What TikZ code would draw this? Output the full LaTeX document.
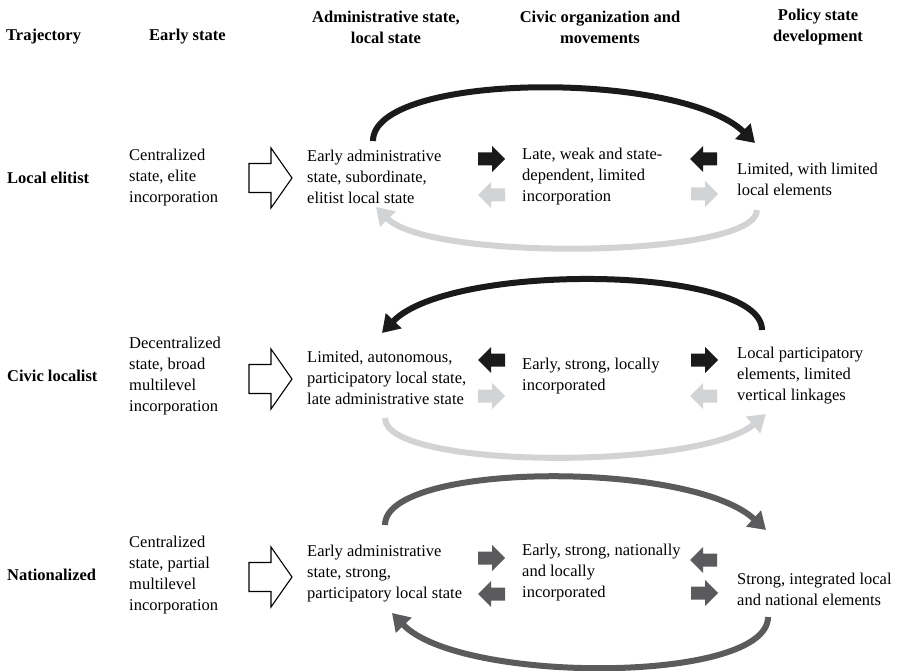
\documentclass[tikz,border=0pt]{standalone}
\usepackage{fontspec}
\setmainfont{Liberation Serif}
\usetikzlibrary{arrows.meta}
\definecolor{ink}{HTML}{1A1A1A}
\definecolor{pale}{HTML}{D2D3D5}
\definecolor{mid}{HTML}{5B5B5D}
\tikzset{
  blockarrow/.pic={\fill (0,-6.5) -- (14,-6.5) -- (14,-13) -- (27,0) -- (14,13) -- (14,6.5) -- (0,6.5) -- cycle;},
  openarrow/.pic={\draw[line width=1.1pt,line join=miter,fill=white]
     (0,-14.5) -- (22,-14.5) -- (22,-30) -- (43,0) -- (22,30) -- (22,14.5) -- (0,14.5) -- cycle;}
}
\begin{document}
\begin{tikzpicture}[x=1pt,y=-1pt,
  txt/.style={anchor=west,align=left,inner sep=0pt,font=\fontsize{16.5}{21}\selectfont},
  hdr/.style={align=center,inner sep=0pt,font=\bfseries\fontsize{16.5}{21}\selectfont},
  rowlab/.style={anchor=west,inner sep=0pt,font=\bfseries\fontsize{16.5}{21}\selectfont},
  loop/.style={line width=6pt,-{Triangle[width=21pt,length=17pt]}}]
\useasboundingbox (0,0) rectangle (902,671);

% column headings
\node[hdr,anchor=west] (hTraj) at (6,37) {Trajectory};
\node[hdr,anchor=west] (hEarly) at (149,37) {Early state};
\node[hdr] (hAdmin) at (386,27) {Administrative state,\\local state};
\node[hdr] (hCivic) at (600,27) {Civic organization and\\movements};
\node[hdr] (hPolicy) at (818,27) {Policy state\\development};

% ---------- local elitist ----------
\node[rowlab] (r1) at (7,178) {Local elitist};
\node[txt] (e1) at (129,178) {Centralized\\state, elite\\incorporation};
\pic at (249,178) {openarrow};
\node[txt] (a1) at (307,177) {Early administrative\\state, subordinate,\\elitist local state};
\pic[ink] at (478,159) {blockarrow};
\pic[pale,xscale=-1] at (505,195) {blockarrow};
\node[txt] (c1) at (522,177) {Late, weak and state-\\dependent, limited\\incorporation};
\pic[ink,xscale=-1] at (717,159) {blockarrow};
\pic[pale] at (691,194) {blockarrow};
\node[txt] (p1) at (737,179) {Limited, with limited\\local elements};
\coordinate (a1top) at (373,141);
\coordinate (p1top) at (755,143);
\coordinate (p1bot) at (757,210);
\coordinate (a1bot) at (376,207);
\draw[loop,ink] (a1top) .. controls (373,72) and (680,70) .. (p1top);
\draw[loop,pale] (p1bot) .. controls (757,258) and (430,262) .. (a1bot);

% ---------- civic localist ----------
\node[rowlab] (r2) at (7,376) {Civic localist};
\node[txt] (e2) at (129,376) {Decentralized\\state, broad\\multilevel\\incorporation};
\pic at (249,379) {openarrow};
\node[txt] (a2) at (307,378) {Limited, autonomous,\\participatory local state,\\late administrative state};
\pic[ink,xscale=-1] at (505,360) {blockarrow};
\pic[pale] at (478,396) {blockarrow};
\node[txt] (c2) at (522,376) {Early, strong, locally\\incorporated};
\pic[ink] at (691,360) {blockarrow};
\pic[pale,xscale=-1] at (717,396) {blockarrow};
\node[txt] (p2) at (737,376) {Local participatory\\elements, limited\\vertical linkages};
\coordinate (p2top) at (762,330);
\coordinate (a2top) at (382,333);
\coordinate (a2bot) at (385,418);
\coordinate (p2bot) at (766,414);
\draw[loop,ink] (p2top) .. controls (762,265) and (450,262) .. (a2top);
\draw[loop,pale] (a2bot) .. controls (385,470) and (700,470) .. (p2bot);

% ---------- nationalized ----------
\node[rowlab] (r3) at (7,575) {Nationalized};
\node[txt] (e3) at (129,575) {Centralized\\state, partial\\multilevel\\incorporation};
\pic at (249,577) {openarrow};
\node[txt] (a3) at (307,574) {Early administrative\\state, strong,\\participatory local state};
\pic[mid] at (478,558) {blockarrow};
\pic[mid,xscale=-1] at (505,594) {blockarrow};
\node[txt] (c3) at (522,573) {Early, strong, nationally\\and locally\\incorporated};
\pic[mid,xscale=-1] at (717,560) {blockarrow};
\pic[mid] at (691,593) {blockarrow};
\node[txt] (p3) at (737,589) {Strong, integrated local\\and national elements};
\coordinate (a3top) at (385,525);
\coordinate (p3top) at (766,530);
\coordinate (p3bot) at (768,617);
\coordinate (a3bot) at (392,613);
\draw[loop,mid] (a3top) .. controls (385,462) and (690,460) .. (p3top);
\draw[loop,mid] (p3bot) .. controls (768,684) and (460,684) .. (a3bot);
\end{tikzpicture}
\end{document}
